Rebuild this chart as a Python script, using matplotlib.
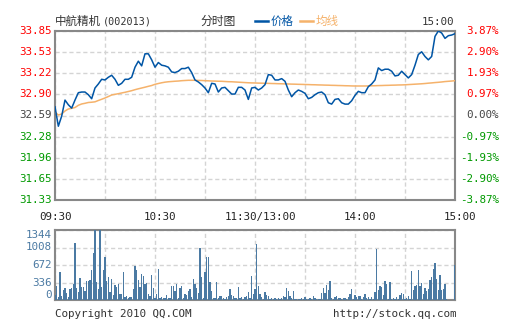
import numpy as np
import matplotlib
matplotlib.use("Agg")
import matplotlib.pyplot as plt
import matplotlib.transforms as mtransforms

# intraday data, 09:30-11:30 and 13:00-15:00 laid out as 240 trading minutes
prev_close = 32.59
price_low = 31.33
price_high = 33.85

# price and running average, sampled every 2 minutes
price = [
    32.72, 32.43, 32.58, 32.82, 32.75, 32.70, 32.82, 32.93, 32.94, 32.94,
    32.90, 32.84, 33.00, 33.06, 33.13, 33.12, 33.16, 33.19, 33.13, 33.04,
    33.07, 33.13, 33.13, 33.16, 33.31, 33.40, 33.33, 33.51, 33.51, 33.42,
    33.31, 33.38, 33.34, 33.33, 33.31, 33.24, 33.23, 33.25, 33.29, 33.29,
    33.31, 33.23, 33.12, 33.09, 33.05, 33.00, 32.93, 33.07, 33.06, 32.94,
    33.00, 33.01, 32.96, 32.91, 32.91, 33.01, 33.01, 32.97, 32.83, 33.00,
    33.01, 32.97, 33.00, 33.05, 33.20, 33.19, 33.12, 33.12, 33.14, 33.10,
    32.97, 32.87, 32.93, 32.97, 32.95, 32.92, 32.84, 32.86, 32.90, 32.93,
    32.94, 32.90, 32.78, 32.76, 32.83, 32.84, 32.78, 32.76, 32.76, 32.81,
    32.89, 32.95, 32.93, 32.93, 33.02, 33.06, 33.12, 33.30, 33.26, 33.28,
    33.28, 33.25, 33.18, 33.19, 33.25, 33.20, 33.15, 33.20, 33.34, 33.50,
    33.54, 33.47, 33.42, 33.47, 33.77, 33.85, 33.82, 33.74, 33.78, 33.79,
    33.81,
]
avg_price = [
    32.642, 32.597, 32.612, 32.657, 32.687, 32.697, 32.709, 32.742, 32.762, 32.772,
    32.784, 32.788, 32.794, 32.814, 32.832, 32.851, 32.873, 32.896, 32.906, 32.915,
    32.926, 32.936, 32.948, 32.960, 32.975, 32.988, 33.000, 33.012, 33.025, 33.037,
    33.055, 33.067, 33.078, 33.087, 33.093, 33.097, 33.101, 33.104, 33.109, 33.112,
    33.115, 33.115, 33.115, 33.113, 33.112, 33.109, 33.107, 33.104, 33.103, 33.101,
    33.100, 33.097, 33.094, 33.093, 33.090, 33.087, 33.084, 33.081, 33.078, 33.076,
    33.075, 33.073, 33.072, 33.070, 33.069, 33.067, 33.066, 33.064, 33.063, 33.061,
    33.060, 33.058, 33.057, 33.055, 33.054, 33.052, 33.051, 33.049, 33.048, 33.046,
    33.045, 33.043, 33.042, 33.040, 33.039, 33.037, 33.036, 33.034, 33.033, 33.031,
    33.030, 33.030, 33.030, 33.030, 33.031, 33.033, 33.034, 33.036, 33.037, 33.039,
    33.040, 33.042, 33.043, 33.045, 33.046, 33.048, 33.051, 33.054, 33.057, 33.060,
    33.063, 33.067, 33.072, 33.076, 33.081, 33.085, 33.090, 33.096, 33.100, 33.104,
    33.109,
]
price_minutes = np.arange(0, 241, 2)

# per-minute volume (lots), morning minutes 0-120, afternoon 121-240
volume_am = [
    96, 269, 58, 544, 77, 192, 230, 134, 58, 211, 230, 307, 1101, 230, 154, 422,
    250, 250, 173, 371, 371, 390, 576, 902, 1344, 352, 211, 1344, 250, 576, 826,
    365, 442, 154, 410, 96, 288, 250, 307, 115, 115, 538, 58, 77, 38, 58, 58,
    211, 653, 576, 384, 250, 499, 461, 307, 326, 115, 77, 480, 230, 38, 115, 595,
    38, 58, 38, 38, 96, 38, 38, 269, 269, 173, 307, 38, 230, 269, 38, 115, 96,
    173, 211, 58, 403, 307, 230, 134, 998, 442, 38, 538, 826, 826, 346, 173, 38,
    38, 346, 38, 77, 77, 38, 19, 58, 77, 211, 96, 77, 38, 38, 250, 38, 58, 19,
    58, 77, 154, 38, 461, 115, 211,
]
volume_pm = [
    1075, 269, 115, 58, 19, 154, 96, 77, 19, 38, 19, 38, 19, 38, 19, 38, 77, 58,
    230, 173, 77, 38, 173, 19, 19, 19, 19, 38, 19, 58, 19, 19, 38, 19, 77, 38,
    19, 19, 19, 134, 230, 134, 288, 192, 365, 38, 19, 58, 77, 38, 38, 19, 38, 38,
    19, 58, 115, 211, 19, 96, 58, 77, 77, 19, 58, 115, 38, 58, 19, 58, 19, 154,
    979, 192, 269, 250, 96, 365, 307, 19, 346, 19, 38, 19, 58, 19, 96, 134, 115,
    19, 38, 77, 19, 557, 192, 269, 288, 576, 269, 326, 115, 230, 173, 211, 384,
    442, 595, 710, 403, 192, 480, 192, 211, 307, 19, 0, 0, 0, 0, 672,
]
volume = volume_am + volume_pm

price_tick_labels = ["31.33", "31.65", "31.96", "32.28", "32.59",
                     "32.90", "33.22", "33.53", "33.85"]
pct_tick_labels = ["-3.87%", "-2.90%", "-1.93%", "-0.97%", "0.00%",
                   "0.97%", "1.93%", "2.90%", "3.87%"]
vol_ticks = [0, 336, 672, 1008, 1344]
time_labels = ["09:30", "10:30", "11:30/13:00", "14:00", "15:00"]
time_minutes = [0, 60, 120, 180, 240]

RED = "#ff0000"
GREEN = "#009900"
GREY = "#444444"
BLUE = "#0055a5"
ORANGE = "#f5b26b"
BAR = "#4b7aa3"
FRAME = "#888888"
GRID = "#d4d4d4"
MONO = "DejaVu Sans Mono"
CJK = ["Noto Sans CJK SC", "DejaVu Sans"]

W, H = 505, 330
fig = plt.figure(figsize=(W / 100, H / 100), dpi=100)


def px(x, y):
    return x / W, 1 - y / H


def frame(ax):
    for s in ax.spines.values():
        s.set_color(FRAME)
        s.set_linewidth(1.5)
    ax.tick_params(length=0, labelleft=False, labelbottom=False)
    ax.set_xlim(0, 240)
    ax.set_xticks(np.arange(0, 241, 30))
    ax.grid(True, color=GRID, linewidth=1, linestyle=(0, (3, 2)))
    ax.set_axisbelow(True)


# price panel
ax = fig.add_axes([55 / W, 1 - 200 / H, 400 / W, 169 / H])
frame(ax)
ax.set_ylim(price_low, price_high)
ax.set_yticks(np.linspace(price_low, price_high, 9))
ax.plot(price_minutes, avg_price, color=ORANGE, linewidth=1.1, zorder=3)
ax.plot(price_minutes, price, color=BLUE, linewidth=1.1, zorder=4)

ymix = mtransforms.blended_transform_factory(ax.transAxes, ax.transData)
for i, (lab, pct) in enumerate(zip(price_tick_labels, pct_tick_labels)):
    yv = price_low + i * (price_high - price_low) / 8
    c = GREEN if i < 4 else (GREY if i == 4 else RED)
    ax.text(-3.5 / 400, yv, lab, transform=ymix, ha="right", va="center",
            color=c, fontsize=7.8, family=MONO)
    ax.text(444 / 400, yv, pct, transform=ymix, ha="right", va="center",
            color=c, fontsize=7.8, family=MONO)

xmix = mtransforms.blended_transform_factory(ax.transData, fig.transFigure)
for m, lab in zip(time_minutes, time_labels):
    shift = 0 if m == 0 else 3
    ax.text(m + shift, 1 - 217 / H, lab, transform=xmix, ha="center",
            va="center", color="#222222", fontsize=7.8, family=MONO)

# volume panel
vax = fig.add_axes([55 / W, 1 - 300 / H, 400 / W, 70 / H])
frame(vax)
vax.set_ylim(0, 1344)
vax.set_yticks(vol_ticks)
vax.bar(np.arange(len(volume)), volume, width=0.65, color=BAR, zorder=3)
vmix = mtransforms.blended_transform_factory(vax.transAxes, vax.transData)
for v in vol_ticks:
    va = "top" if v == vol_ticks[-1] else ("bottom" if v == 0 else "center")
    vax.text(-3.5 / 400, v, str(v), transform=vmix, ha="right", va=va,
             color=BAR, fontsize=7.8, family=MONO)

# header and footer
fig.text(*px(55, 21), "中航精机", family=CJK, fontsize=8.3, color="#333333",
         ha="left", va="center")
fig.text(*px(103, 21), "(002013)", family=MONO, fontsize=7.3, color="#333333",
         ha="left", va="center")
fig.text(*px(200, 21), "分时图", family=CJK, fontsize=8.5, color="#333333",
         ha="left", va="center")
fig.add_artist(plt.Line2D([255 / W, 268 / W], [1 - 21 / H] * 2, color=BLUE,
                          linewidth=1.8))
fig.text(*px(271, 21), "价格", family=CJK, fontsize=8.3, color=BLUE,
         ha="left", va="center")
fig.add_artist(plt.Line2D([300 / W, 313 / W], [1 - 21 / H] * 2, color=ORANGE,
                          linewidth=1.8))
fig.text(*px(316, 21), "均线", family=CJK, fontsize=8.3, color=ORANGE,
         ha="left", va="center")
fig.text(*px(454, 22), "15:00", family=MONO, fontsize=7.8, color="#333333",
         ha="right", va="center")
fig.text(*px(55, 314), "Copyright 2010 QQ.COM", family=MONO, fontsize=7.8,
         color="#333333", ha="left", va="center")
fig.text(*px(456, 314), "http://stock.qq.com", family=MONO, fontsize=7.8,
         color="#333333", ha="right", va="center")

fig.savefig("out.png", dpi=100)
